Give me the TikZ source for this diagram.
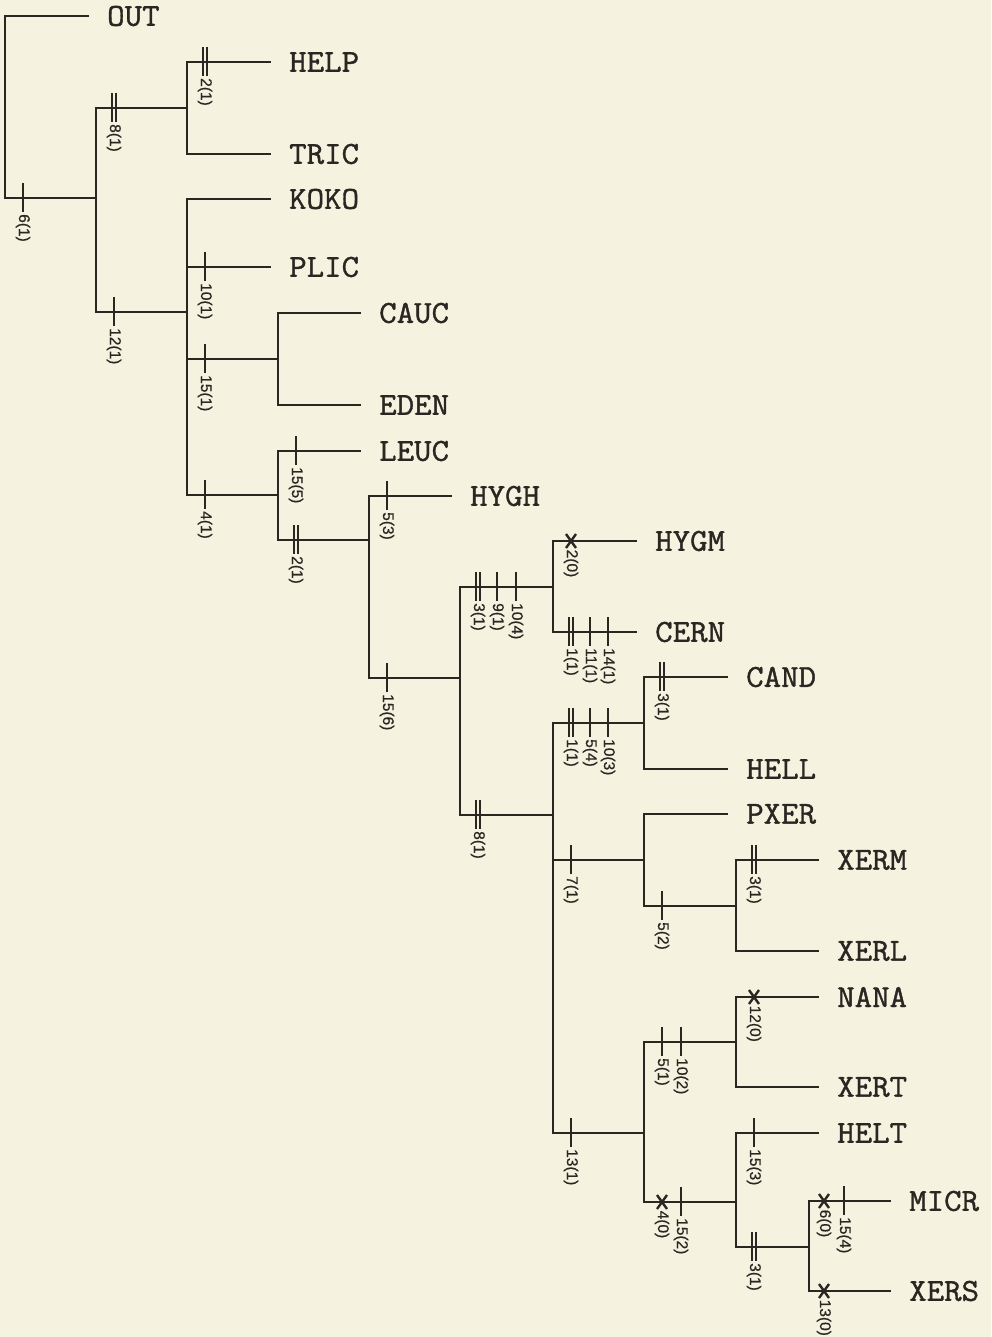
\documentclass[tikz,border=0pt]{standalone}
\usepackage{fontspec}
\usetikzlibrary{calc}
\newfontfamily\labfont{Liberation Sans}[FakeBold=0.6]
\newfontfamily\leaffont{Latin Modern Mono}[FakeStretch=1.06, FakeBold=1.2]
\definecolor{bg}{HTML}{F6F2E0}
\definecolor{ink}{HTML}{2A2622}
\tikzset{
  br/.style={draw=ink, line width=1.9pt, line cap=rect},
  tick/.style={draw=ink, line width=1.5pt},
  xm/.style={draw=ink, line width=2.4pt},
  leaf/.style={font=\leaffont\fontsize{32}{32}\selectfont, text=ink, anchor=west, inner sep=0pt},
  lab/.style={font=\labfont\fontsize{15.5}{15.5}\selectfont, text=ink, rotate=-90, anchor=west, inner sep=0pt}
}
\newcommand\mkleaf[3]{\coordinate (e#1) at (#2,#3); \node[leaf] (#1) at (#2+19,#3) {#1};}
\newcommand\tk[4]{%
  \path ($(#1 |- #2)+(#3,0)$) coordinate (tmp);
  \draw[tick] ($(tmp)+(0,-15)$) -- ($(tmp)+(0,14)$);
  \node[lab] at ($(tmp)+(0,16)$) {#4};}
\newcommand\dtk[4]{%
  \path ($(#1 |- #2)+(#3,0)$) coordinate (tmp);
  \draw[tick] ($(tmp)+(-2,-15)$) -- ($(tmp)+(-2,14)$);
  \draw[tick] ($(tmp)+(2,-15)$) -- ($(tmp)+(2,14)$);
  \node[lab] at ($(tmp)+(0,16)$) {#4};}
\newcommand\xtk[4]{%
  \path ($(#1 |- #2)+(#3,0)$) coordinate (tmp);
  \draw[xm] ($(tmp)+(-5,-7)$) -- ($(tmp)+(5,7)$);
  \draw[xm] ($(tmp)+(5,-7)$) -- ($(tmp)+(-5,7)$);
  \node[lab] at ($(tmp)+(0,8.5)$) {#4};}
\begin{document}
\begin{tikzpicture}[x=1pt,y=-1pt]
\fill[bg] (0,0) rectangle (991,1337);
\useasboundingbox (0,0) rectangle (991,1337);
% leaves
\mkleaf{OUT}{88}{16}
\mkleaf{HELP}{270}{62}
\mkleaf{TRIC}{270}{154}
\mkleaf{KOKO}{270}{199}
\mkleaf{PLIC}{270}{267}
\mkleaf{CAUC}{360}{313}
\mkleaf{EDEN}{360}{405}
\mkleaf{LEUC}{360}{451}
\mkleaf{HYGH}{451}{496}
\mkleaf{HYGM}{636}{541}
\mkleaf{CERN}{636}{632}
\mkleaf{CAND}{727}{677}
\mkleaf{HELL}{727}{769}
\mkleaf{PXER}{727}{814}
\mkleaf{XERM}{818}{860}
\mkleaf{XERL}{818}{951}
\mkleaf{NANA}{818}{997}
\mkleaf{XERT}{818}{1087}
\mkleaf{HELT}{818}{1133}
\mkleaf{MICR}{890}{1201}
\mkleaf{XERS}{890}{1291}
% internal nodes
\coordinate (R) at (5,198);
\coordinate (A) at (96,198);
\coordinate (B) at (187,108);
\coordinate (C) at (187,312);
\coordinate (D) at (278,359);
\coordinate (E) at (278,495);
\coordinate (F) at (369,540);
\coordinate (G) at (460,678);
\coordinate (H) at (553,587);
\coordinate (I) at (553,815);
\coordinate (J) at (644,723);
\coordinate (K) at (644,860);
\coordinate (L) at (736,906);
\coordinate (M) at (644,1133);
\coordinate (N) at (736,1042);
\coordinate (O) at (736,1202);
\coordinate (P) at (809,1247);
% verticals
\draw[br] (R |- eOUT) -- (R |- A);
\draw[br] (A |- B) -- (A |- C);
\draw[br] (B |- eHELP) -- (B |- eTRIC);
\draw[br] (C |- eKOKO) -- (C |- E);
\draw[br] (D |- eCAUC) -- (D |- eEDEN);
\draw[br] (E |- eLEUC) -- (E |- F);
\draw[br] (F |- eHYGH) -- (F |- G);
\draw[br] (G |- H) -- (G |- I);
\draw[br] (H |- eHYGM) -- (H |- eCERN);
\draw[br] (I |- J) -- (I |- M);
\draw[br] (J |- eCAND) -- (J |- eHELL);
\draw[br] (K |- ePXER) -- (K |- L);
\draw[br] (L |- eXERM) -- (L |- eXERL);
\draw[br] (M |- N) -- (M |- O);
\draw[br] (N |- eNANA) -- (N |- eXERT);
\draw[br] (O |- eHELT) -- (O |- P);
\draw[br] (P |- eMICR) -- (P |- eXERS);
% horizontals
\draw[br] (R |- eOUT) -- (eOUT);
\draw[br] (R) -- (A);
\draw[br] (A |- B) -- (B);
\draw[br] (A |- C) -- (C);
\draw[br] (B |- eHELP) -- (eHELP);
\draw[br] (B |- eTRIC) -- (eTRIC);
\draw[br] (C |- eKOKO) -- (eKOKO);
\draw[br] (C |- ePLIC) -- (ePLIC);
\draw[br] (C |- D) -- (D);
\draw[br] (C |- E) -- (E);
\draw[br] (D |- eCAUC) -- (eCAUC);
\draw[br] (D |- eEDEN) -- (eEDEN);
\draw[br] (E |- eLEUC) -- (eLEUC);
\draw[br] (E |- F) -- (F);
\draw[br] (F |- eHYGH) -- (eHYGH);
\draw[br] (F |- G) -- (G);
\draw[br] (G |- H) -- (H);
\draw[br] (G |- I) -- (I);
\draw[br] (H |- eHYGM) -- (eHYGM);
\draw[br] (H |- eCERN) -- (eCERN);
\draw[br] (I |- J) -- (J);
\draw[br] (I |- K) -- (K);
\draw[br] (I |- M) -- (M);
\draw[br] (J |- eCAND) -- (eCAND);
\draw[br] (J |- eHELL) -- (eHELL);
\draw[br] (K |- ePXER) -- (ePXER);
\draw[br] (K |- L) -- (L);
\draw[br] (L |- eXERM) -- (eXERM);
\draw[br] (L |- eXERL) -- (eXERL);
\draw[br] (M |- N) -- (N);
\draw[br] (M |- O) -- (O);
\draw[br] (N |- eNANA) -- (eNANA);
\draw[br] (N |- eXERT) -- (eXERT);
\draw[br] (O |- eHELT) -- (eHELT);
\draw[br] (O |- P) -- (P);
\draw[br] (P |- eMICR) -- (eMICR);
\draw[br] (P |- eXERS) -- (eXERS);
% marks
\tk{R}{A}{18}{6(1)}
\dtk{A}{B}{18}{8(1)}
\tk{A}{C}{18}{12(1)}
\dtk{B}{eHELP}{18}{2(1)}
\tk{C}{ePLIC}{18}{10(1)}
\tk{C}{D}{18}{15(1)}
\tk{C}{E}{18}{4(1)}
\tk{E}{eLEUC}{18}{15(5)}
\dtk{E}{F}{18}{2(1)}
\tk{F}{eHYGH}{18}{5(3)}
\tk{F}{G}{18}{15(6)}
\dtk{G}{H}{18}{3(1)}
\tk{G}{H}{37}{9(1)}
\tk{G}{H}{56}{10(4)}
\dtk{G}{I}{18}{8(1)}
\xtk{H}{eHYGM}{18}{2(0)}
\dtk{H}{eCERN}{18}{1(1)}
\tk{H}{eCERN}{37}{11(1)}
\tk{H}{eCERN}{55}{14(1)}
\dtk{I}{J}{18}{1(1)}
\tk{I}{J}{37}{5(4)}
\tk{I}{J}{55}{10(3)}
\tk{I}{K}{18}{7(1)}
\tk{I}{M}{18}{13(1)}
\dtk{J}{eCAND}{18}{3(1)}
\tk{K}{L}{18}{5(2)}
\dtk{L}{eXERM}{18}{3(1)}
\tk{M}{N}{18}{5(1)}
\tk{M}{N}{37}{10(2)}
\xtk{M}{O}{18}{4(0)}
\tk{M}{O}{37}{15(2)}
\xtk{N}{eNANA}{18}{12(0)}
\tk{O}{eHELT}{18}{15(3)}
\dtk{O}{P}{18}{3(1)}
\xtk{P}{eMICR}{15}{6(0)}
\tk{P}{eMICR}{35}{15(4)}
\xtk{P}{eXERS}{15}{13(0)}
\end{tikzpicture}
\end{document}
